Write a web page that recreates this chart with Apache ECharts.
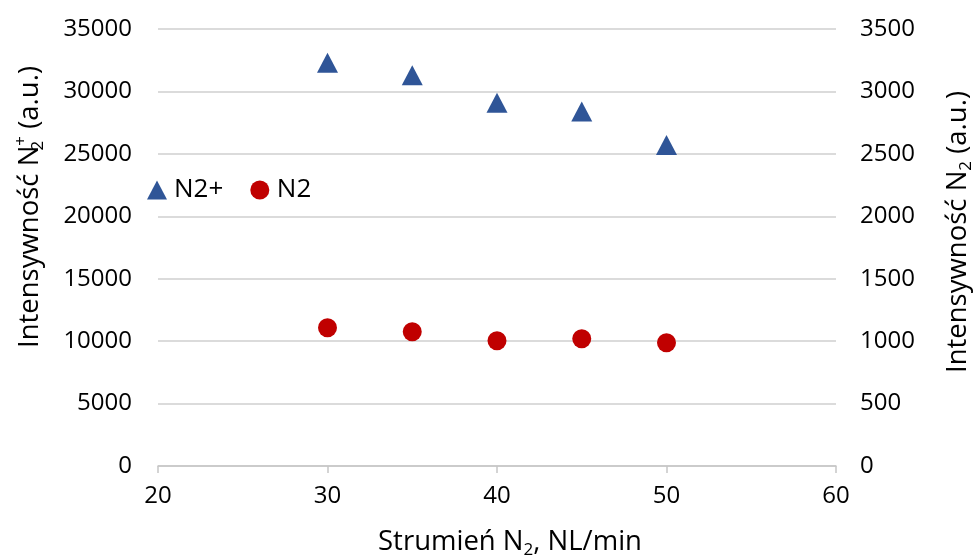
<!DOCTYPE html>
<html>
<head>
<meta charset="utf-8">
<script src="https://cdn.jsdelivr.net/npm/echarts@6/dist/echarts.min.js"></script>
<style>
  html, body { margin: 0; padding: 0; background: #fff; }
  #chart { width: 975px; height: 560px; }
</style>
</head>
<body>
<div id="chart"></div>
<script>
// ---- data ----
const flowValues = [30, 35, 40, 45, 50];                  // Strumień N2, NL/min
const n2PlusValues = [32300, 31300, 29100, 28400, 25700]; // left axis
const n2Values = [1108, 1075, 1003, 1019, 987];           // right axis
const seriesNames = ['N2+', 'N2'];
const xTitleParts = ['Strumień N', '2', ', NL/min'];
const leftTitleParts = ['Intensywność N', '2', '+', ' (a.u.)'];
const rightTitleParts = ['Intensywność N', '2', ' (a.u.)'];

const FONT = '"Open Sans", "Noto Sans", sans-serif';
const chart = echarts.init(document.getElementById('chart'), null, { renderer: 'canvas' });

const titleRich = {
  a: { fontFamily: FONT, fontSize: 27.5, color: '#000', lineHeight: 34, verticalAlign: 'middle' },
  sub: { fontFamily: FONT, fontSize: 17, color: '#000', lineHeight: 16, verticalAlign: 'bottom' },
  subz: { fontFamily: FONT, fontSize: 17, color: '#000', lineHeight: 16, verticalAlign: 'bottom', width: 0 },
  sup: { fontFamily: FONT, fontSize: 17, color: '#000', lineHeight: 18, verticalAlign: 'top' }
};
const plain = v => String(v);

const option = {
  backgroundColor: '#fff',
  animation: false,
  grid: { left: 158, right: 139, top: 29, bottom: 94, containLabel: false },
  legend: {
    left: 142, top: 172,
    itemWidth: 20, itemHeight: 19, itemGap: 27,
    textStyle: { fontFamily: FONT, fontSize: 26, color: '#000', padding: [0, 0, 0, 2] },
    data: [
      { name: seriesNames[0], icon: 'triangle' },
      { name: seriesNames[1], icon: 'circle' }
    ]
  },
  xAxis: {
    type: 'value', min: 20, max: 60, interval: 10,
    axisLine: { show: true, lineStyle: { color: '#c6c6c6', width: 1.5 } },
    axisTick: { show: true, inside: false, length: 7, lineStyle: { color: '#c6c6c6', width: 1.5 } },
    splitLine: { show: false },
    axisLabel: { fontFamily: FONT, fontSize: 24, color: '#000', margin: 18, formatter: plain }
  },
  yAxis: [
    {
      type: 'value', min: 0, max: 35000, interval: 5000,
      axisLine: { show: false }, axisTick: { show: false },
      splitLine: { show: true, lineStyle: { color: '#cfcfcf', width: 1.5 } },
      axisLabel: { fontFamily: FONT, fontSize: 24, color: '#000', margin: 26, formatter: plain }
    },
    {
      type: 'value', min: 0, max: 3500, interval: 500, position: 'right',
      axisLine: { show: false }, axisTick: { show: false },
      splitLine: { show: false },
      axisLabel: { fontFamily: FONT, fontSize: 24, color: '#000', margin: 24, formatter: plain }
    }
  ],
  series: [
    {
      name: seriesNames[0], type: 'scatter', yAxisIndex: 0,
      symbol: 'triangle', symbolSize: [21, 20],
      itemStyle: { color: '#2f5597', opacity: 1 },
      data: flowValues.map((x, i) => [x, n2PlusValues[i]])
    },
    {
      name: seriesNames[1], type: 'scatter', yAxisIndex: 1,
      symbol: 'circle', symbolSize: 19,
      itemStyle: { color: '#c00000', opacity: 1 },
      data: flowValues.map((x, i) => [x, n2Values[i]])
    }
  ],
  graphic: [
    {
      type: 'text', x: 510, y: 542,
      style: {
        text: '{a|' + xTitleParts[0] + '}{sub|' + xTitleParts[1] + '}{a|' + xTitleParts[2] + '}',
        rich: titleRich, align: 'center', verticalAlign: 'middle'
      }
    },
    {
      type: 'text', x: 30, y: 207, rotation: Math.PI / 2,
      style: {
        text: '{a|' + leftTitleParts[0] + '}{subz|' + leftTitleParts[1] + '}{sup|' + leftTitleParts[2] + '}{a|' + leftTitleParts[3] + '}',
        rich: titleRich, align: 'center', verticalAlign: 'middle'
      }
    },
    {
      type: 'text', x: 958, y: 232, rotation: Math.PI / 2,
      style: {
        text: '{a|' + rightTitleParts[0] + '}{sub|' + rightTitleParts[1] + '}{a|' + rightTitleParts[2] + '}',
        rich: titleRich, align: 'center', verticalAlign: 'middle'
      }
    }
  ]
};
chart.setOption(option);
</script>
</body>
</html>
